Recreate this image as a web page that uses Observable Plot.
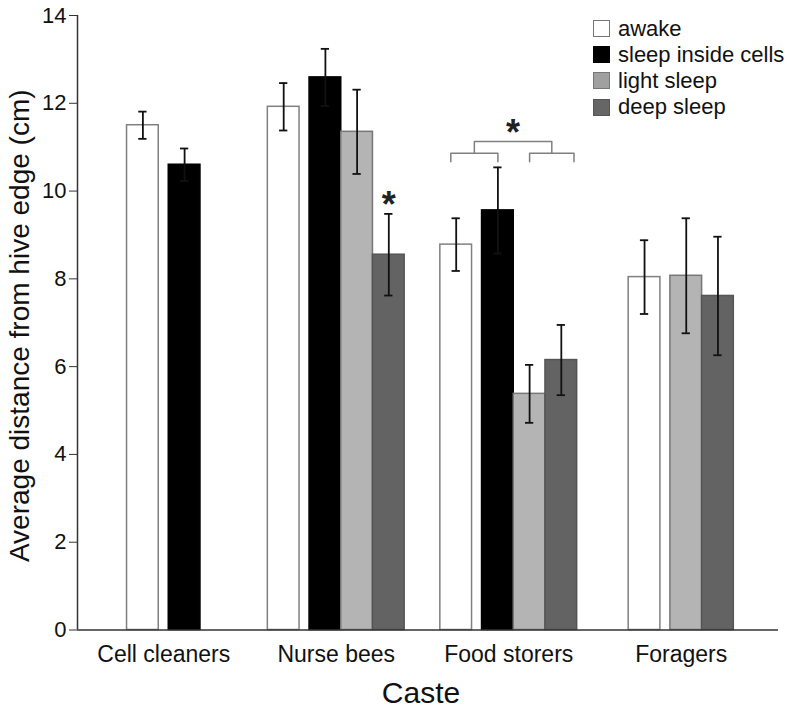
<!DOCTYPE html>
<html>
<head>
<meta charset="utf-8">
<script src="https://cdn.jsdelivr.net/npm/d3@7"></script>
<script src="https://cdn.jsdelivr.net/npm/@observablehq/plot@0.6"></script>
<style>
  html, body { margin: 0; padding: 0; background: #fff; }
  #wrap { position: relative; width: 790px; height: 710px; font-family: "Liberation Sans", Arial, sans-serif; }
  .lg { position: absolute; left: 593px; height: 26px; display: flex; align-items: center; font-size: 22px; color: #111; white-space: nowrap; }
  .sw { width: 17px; height: 17px; box-sizing: border-box; border: 1.5px solid #777; margin-right: 8px; }
</style>
</head>
<body>
<div id="wrap"></div>
<script>
// ---- data ----
const castes = ["Cell cleaners", "Nurse bees", "Food storers", "Foragers"];
const states = ["awake", "sleep inside cells", "light sleep", "deep sleep"];
const meanAwake      = [11.50, 11.92, 8.78, 8.04];
const meanSleepCells = [10.60, 12.59, 9.56, null];
const meanLight      = [null, 11.35, 5.38, 8.07];
const meanDeep       = [null, 8.55, 6.15, 7.61];
const seAwake        = [0.31, 0.54, 0.60, 0.84];
const seSleepCells   = [0.37, 0.65, 0.98, null];
const seLight        = [null, 0.96, 0.66, 1.31];
const seDeep         = [null, 0.93, 0.80, 1.35];
const yTicks = [0, 2, 4, 6, 8, 10, 12, 14];

// ---- styling ----
const fills   = ["#ffffff", "#000000", "#b4b4b4", "#636363"];
const strokes = ["#808080", "#000000", "#777777", "#555555"];
const legendFills = ["#ffffff", "#000000", "#a0a0a0", "#666666"];
const legendStrokes = ["#777777", "#000000", "#777777", "#555555"];

const means = [meanAwake, meanSleepCells, meanLight, meanDeep];
const ses = [seAwake, seSleepCells, seLight, seDeep];

// layout in x units (one unit per caste)
const BW = 0.1838, GAP = 0.058, CAP = 0.024;
const rows = [];
castes.forEach((c, i) => {
  const present = states.map((s, k) => k).filter(k => means[k][i] != null);
  const n = present.length;
  const total = n * BW + (n > 1 ? GAP : 0);
  const start = i + 0.5 - total / 2;
  present.forEach((k, j) => {
    const x1 = start + j * BW + (j > 0 ? GAP : 0);
    rows.push({caste: c, ci: i, k, state: states[k], x1, x2: x1 + BW, xc: x1 + BW / 2, mean: means[k][i], se: ses[k][i]});
  });
});

// annotations
const nurseDeep = rows.find(r => r.ci === 1 && r.k === 3);
const fs = k => rows.find(r => r.ci === 2 && r.k === k);
const lA = fs(0).x1 + 0.33 * BW, lB = fs(1).xc;
const rA = fs(2).xc, rB = fs(3).x2 - 0.1 * BW;
const lc = (lA + lB) / 2, rc = (rA + rB) / 2;
const yLeg = 10.67, yLow = 10.86, yTop = 11.13, yStar = 11.52;
const bracket = [
  {z: 0, x: lA, y: yLeg}, {z: 0, x: lA, y: yLow}, {z: 0, x: lB, y: yLow}, {z: 0, x: lB, y: yLeg},
  {z: 1, x: rA, y: yLeg}, {z: 1, x: rA, y: yLow}, {z: 1, x: rB, y: yLow}, {z: 1, x: rB, y: yLeg},
  {z: 2, x: lc, y: yLow}, {z: 2, x: lc, y: yTop}, {z: 2, x: rc, y: yTop}, {z: 2, x: rc, y: yLow}
];
const stars = [
  {x: nurseDeep.xc, y: nurseDeep.mean + nurseDeep.se + 0.39},
  {x: (lc + rc) / 2, y: yStar}
];

const chart = Plot.plot({
  width: 790,
  height: 710,
  marginLeft: 77,
  marginRight: 12,
  marginTop: 15,
  marginBottom: 80.5,
  style: {fontFamily: "'Liberation Sans', Arial, sans-serif", color: "#111", background: "#fff"},
  x: {domain: [0, 4], range: [77, 767]},
  y: {domain: [0, 14]},
  marks: [
    ...states.map((s, k) => Plot.rect(rows.filter(r => r.k === k), {
      x1: "x1", x2: "x2", y1: 0, y2: "mean", fill: fills[k], stroke: strokes[k], strokeWidth: 1.5
    })),
    Plot.ruleX(rows, {x: "xc", y1: d => d.mean - d.se, y2: d => d.mean + d.se, stroke: "#111", strokeWidth: 1.8}),
    Plot.ruleY(rows, {y: d => d.mean + d.se, x1: d => d.xc - CAP, x2: d => d.xc + CAP, stroke: "#111", strokeWidth: 1.8}),
    Plot.ruleY(rows, {y: d => d.mean - d.se, x1: d => d.xc - CAP, x2: d => d.xc + CAP, stroke: "#111", strokeWidth: 1.8}),
    Plot.line(bracket, {x: "x", y: "y", z: "z", stroke: "#808080", strokeWidth: 1.5, curve: "linear"}),
    Plot.text(stars, {x: "x", y: "y", text: () => "*", fontSize: 36, fontWeight: "bold", dy: 9, fill: "#222"}),
    Plot.ruleX([0], {stroke: "#333", strokeWidth: 1.5}),
    Plot.ruleY([0], {stroke: "#333", strokeWidth: 1.5}),
    Plot.axisY({ticks: yTicks, tickSize: 8, tickPadding: 3, fontSize: 22, label: null, stroke: "#333"}),
    Plot.axisX({ticks: [0.5, 1.5, 2.5, 3.5], tickFormat: d => castes[Math.floor(d)], tickSize: 0, tickPadding: 16, fontSize: 23, label: null}),
    Plot.text(["Average distance from hive edge (cm)"], {frameAnchor: "left", rotate: -90, dx: -57, dy: 3, fontSize: 28, textAnchor: "middle"}),
    Plot.text(["Caste"], {frameAnchor: "bottom", dx: -7, dy: 73, fontSize: 30, lineAnchor: "bottom"})
  ]
});

const wrap = document.getElementById("wrap");
wrap.appendChild(chart);
states.forEach((s, k) => {
  const row = document.createElement("div");
  row.className = "lg";
  row.style.top = (15.5 + k * 26.2) + "px";
  const sw = document.createElement("div");
  sw.className = "sw";
  sw.style.background = legendFills[k];
  sw.style.borderColor = legendStrokes[k];
  const t = document.createElement("span");
  t.textContent = s;
  row.appendChild(sw);
  row.appendChild(t);
  wrap.appendChild(row);
});
</script>
</body>
</html>
